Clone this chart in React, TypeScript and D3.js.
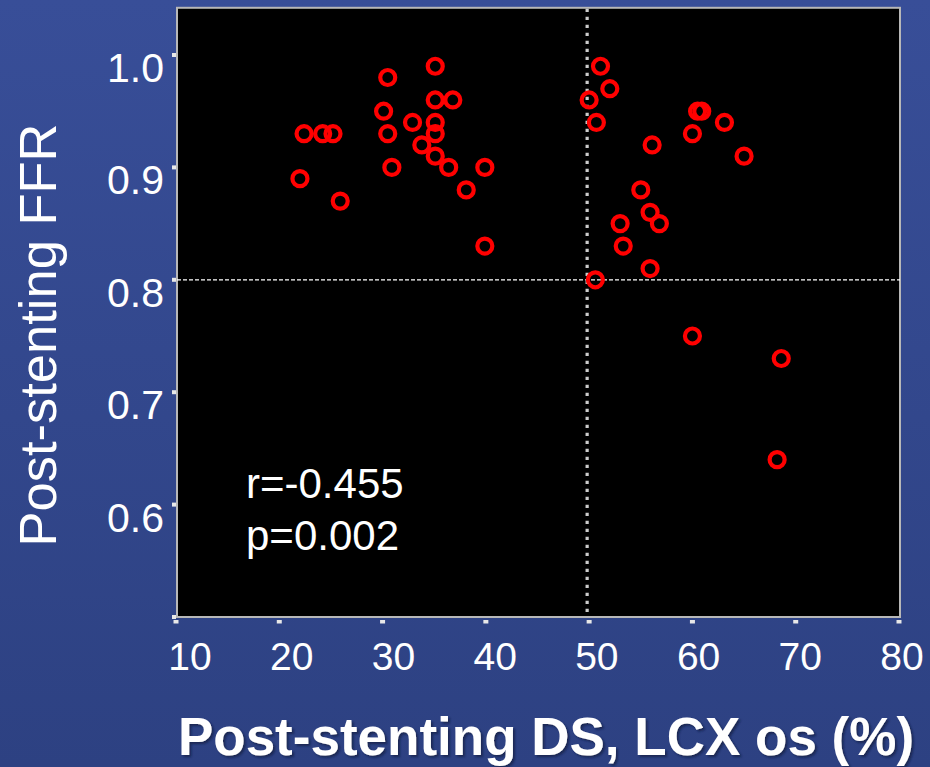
import React from "react";
import * as d3 from "d3";

const dsValues: number[] = [
  22.0, 22.4, 24.2, 25.2, 25.9, 30.5, 30.1, 30.5, 30.9, 32.9, 33.8,
  35.1, 35.1, 36.8, 35.1, 35.1, 35.1, 36.4, 38.1, 39.9, 39.9,
  51.1, 52.0, 50.0, 50.7, 50.6, 60.5, 60.9, 63.1, 60.0, 56.1,
  65.0, 55.0, 55.9, 53.0, 56.8, 53.3, 55.9, 60.0, 68.6, 68.2,
];
const ffrValues: number[] = [
  0.89, 0.93, 0.93, 0.93, 0.87, 0.98, 0.95, 0.93, 0.90, 0.94, 0.92,
  0.99, 0.96, 0.96, 0.94, 0.93, 0.91, 0.90, 0.88, 0.90, 0.83,
  0.99, 0.97, 0.96, 0.94, 0.80, 0.95, 0.95, 0.94, 0.93, 0.92,
  0.91, 0.88, 0.86, 0.85, 0.85, 0.83, 0.81, 0.75, 0.73, 0.64,
];
const xTicks: number[] = [10, 20, 30, 40, 50, 60, 70, 80];
const yTicks: number[] = [0.5, 0.6, 0.7, 0.8, 0.9, 1.0];
const yTickLabels: string[] = ["", "0.6", "0.7", "0.8", "0.9", "1.0"];
const dsCutoff = 50;
const ffrCutoff = 0.8;
const statLines: string[] = ["r=-0.455", "p=0.002"];
const xTitle = "Post-stenting DS, LCX os (%)";
const yTitle = "Post-stenting FFR";

const W = 930;
const H = 767;
const FONT = "'Liberation Sans', Arial, Helvetica, sans-serif";

export default function App() {
  const x = d3.scaleLinear().domain([10, 80]).range([176, 899]);
  const xLabel = d3.scaleLinear().domain([10, 80]).range([190, 902]);
  const y = d3.scaleLinear().domain([0.5, 1.0]).range([617, 55]);
  const boxLeft = 177;
  const boxRight = 900;
  const boxTop = y(1.042);
  const boxBottom = 617;

  const points = dsValues.map((d, i) => ({ ds: d, ffr: ffrValues[i] }));

  return (
    <div style={{ position: "fixed", left: 0, top: 0, width: W, height: H }}>
      <svg width={W} height={H} style={{ display: "block" }}>
        <defs>
          <linearGradient id="bg" x1="0" y1="0" x2="0" y2="1">
            <stop offset="0" stopColor="#384e98" />
            <stop offset="1" stopColor="#2d4182" />
          </linearGradient>
          <filter id="shadow" x="-5%" y="-20%" width="110%" height="150%">
            <feDropShadow dx="2" dy="2" stdDeviation="0.8" floodColor="#111a40" floodOpacity="0.7" />
          </filter>
        </defs>
        <rect x={0} y={0} width={W} height={H} fill="url(#bg)" />

        {/* plot area */}
        <rect
          x={boxLeft}
          y={boxTop}
          width={boxRight - boxLeft}
          height={boxBottom - boxTop}
          fill="#000"
          stroke="#b8b8b8"
          strokeWidth={2}
        />

        {/* reference lines */}
        <line
          x1={boxLeft}
          x2={boxRight}
          y1={y(ffrCutoff)}
          y2={y(ffrCutoff)}
          stroke="#ffffff"
          strokeWidth={1.2}
          strokeDasharray="4,2"
        />
        <line
          x1={x(dsCutoff) - 2}
          x2={x(dsCutoff) - 2}
          y1={boxTop + 1}
          y2={boxBottom - 1}
          stroke="#cccccc"
          strokeWidth={3.2}
          strokeDasharray="3.3,4.7"
        />

        {/* y ticks */}
        {yTicks.map((t, i) => (
          <g key={"yt" + i}>
            <rect x={172} y={y(t) - 2} width={4} height={4} fill="#e8e8e8" />
            {yTickLabels[i] && (
              <text
                x={164}
                y={y(t) + 27}
                textAnchor="end"
                fontFamily={FONT}
                fontSize={41}
                fill="#ffffff"
              >
                {yTickLabels[i]}
              </text>
            )}
          </g>
        ))}

        {/* x ticks */}
        {xTicks.map((t, i) => (
          <g key={"xt" + i}>
            <rect x={x(t) - 2.5} y={620} width={5} height={3.5} fill="#e8e8e8" />
            <text
              x={xLabel(t)}
              y={670}
              textAnchor="middle"
              fontFamily={FONT}
              fontSize={39}
              fill="#ffffff"
            >
              {t}
            </text>
          </g>
        ))}

        {/* points */}
        {points.map((p, i) => (
          <circle
            key={"p" + i}
            cx={x(p.ds)}
            cy={y(p.ffr)}
            r={7.5}
            fill="none"
            stroke="#ff0000"
            strokeWidth={4.2}
          />
        ))}

        {/* stats */}
        {statLines.map((s, i) => (
          <text
            key={"s" + i}
            x={246}
            y={498 + i * 52}
            fontFamily={FONT}
            fontSize={42}
            fill="#ffffff"
          >
            {s}
          </text>
        ))}

        {/* y title */}
        <text
          transform={`translate(56, 335) rotate(-90)`}
          textAnchor="middle"
          fontFamily={FONT}
          fontSize={52.5}
          fill="#ffffff"
        >
          {yTitle}
        </text>

        {/* x title with shadow */}
        <text
          x={546}
          y={755}
          textAnchor="middle"
          fontFamily={FONT}
          fontSize={53}
          fontWeight="bold"
          fill="#ffffff"
          filter="url(#shadow)"
        >
          {xTitle}
        </text>
      </svg>
    </div>
  );
}
